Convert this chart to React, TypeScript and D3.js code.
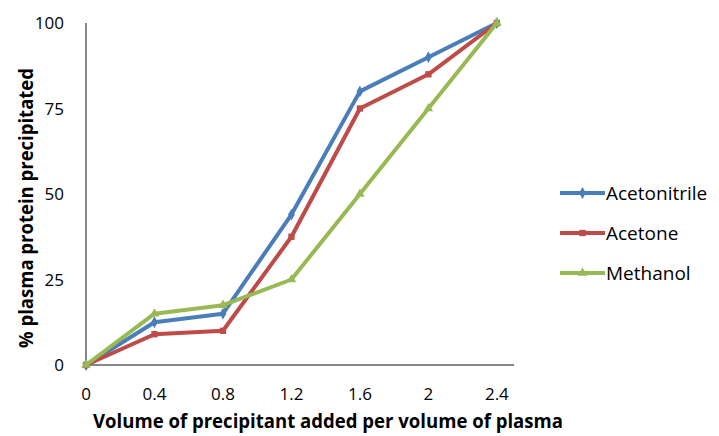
import React, { useEffect, useRef } from "react";
import * as d3 from "d3";

const volumes = [0, 0.4, 0.8, 1.2, 1.6, 2, 2.4];
const acetonitrile = [0, 12.5, 15, 44, 80, 90, 100];
const acetone = [0, 9, 10, 37.5, 75, 85, 100];
const methanol = [0, 15, 17.5, 25, 50, 75, 100];
const yTicks = [0, 25, 50, 75, 100];

const series = [
  { name: "Acetonitrile", values: acetonitrile, color: "#4A7EBB", symbol: d3.symbolDiamond },
  { name: "Acetone", values: acetone, color: "#BE4B48", symbol: d3.symbolSquare },
  { name: "Methanol", values: methanol, color: "#98B954", symbol: d3.symbolTriangle },
];

const FONT = "'Open Sans', sans-serif";

export default function App() {
  const svgRef = useRef<SVGSVGElement>(null);

  useEffect(() => {
    if (!svgRef.current) return;
    const svg = d3.select(svgRef.current);
    svg.selectAll("*").remove();

    const x = d3.scaleLinear().domain([0, 2.5]).range([86, 514]);
    const y = d3.scaleLinear().domain([0, 100]).range([365, 23]);

    // axes lines
    svg.append("line")
      .attr("x1", x(0)).attr("x2", x(0)).attr("y1", y(100)).attr("y2", y(0))
      .attr("stroke", "#868686").attr("stroke-width", 2);
    svg.append("line")
      .attr("x1", x(0)).attr("x2", x(2.5)).attr("y1", y(0)).attr("y2", y(0))
      .attr("stroke", "#868686").attr("stroke-width", 2);

    // y tick labels
    svg.selectAll(".ytick")
      .data(yTicks)
      .enter()
      .append("text")
      .attr("x", 64)
      .attr("y", (d) => y(d))
      .attr("dy", "0.36em")
      .attr("text-anchor", "end")
      .style("font-family", FONT)
      .style("font-size", "17px")
      .style("fill", "#000")
      .text((d) => d);

    // x tick labels
    svg.selectAll(".xtick")
      .data(volumes)
      .enter()
      .append("text")
      .attr("x", (d) => x(d))
      .attr("y", 400)
      .attr("text-anchor", "middle")
      .style("font-family", FONT)
      .style("font-size", "17px")
      .style("fill", "#000")
      .text((d) => String(d));

    // axis titles
    svg.append("text")
      .attr("x", 93)
      .attr("y", 428)
      .attr("textLength", 470)
      .attr("lengthAdjust", "spacingAndGlyphs")
      .style("font-family", FONT)
      .style("font-size", "19px")
      .style("font-weight", "bold")
      .text("Volume of precipitant added per volume of plasma");

    svg.append("text")
      .attr("transform", "translate(33,348) rotate(-90)")
      .attr("textLength", 280)
      .attr("lengthAdjust", "spacingAndGlyphs")
      .style("font-family", FONT)
      .style("font-size", "19px")
      .style("font-weight", "bold")
      .text("% plasma protein precipitated");

    const line = d3.line<number>()
      .x((_, i) => x(volumes[i]))
      .y((d) => y(d));

    series.forEach((s) => {
      svg.append("path")
        .datum(s.values)
        .attr("d", line)
        .attr("fill", "none")
        .attr("stroke", s.color)
        .attr("stroke-width", 4)
        .attr("stroke-linejoin", "round");

      svg.selectAll(null)
        .data(s.values)
        .enter()
        .append("path")
        .attr("transform", (d, i) => `translate(${x(volumes[i])},${y(d)})`)
        .attr("d", d3.symbol().type(s.symbol).size(40)())
        .attr("fill", s.color);
    });

    // legend
    const lg = svg.append("g").attr("transform", "translate(560,193)");
    series.forEach((s, i) => {
      const row = lg.append("g").attr("transform", `translate(0,${i * 40})`);
      row.append("line")
        .attr("x1", 0).attr("x2", 45).attr("y1", 0).attr("y2", 0)
        .attr("stroke", s.color).attr("stroke-width", 4);
      row.append("path")
        .attr("transform", "translate(22.5,0)")
        .attr("d", d3.symbol().type(s.symbol).size(40)())
        .attr("fill", s.color);
      row.append("text")
        .attr("x", 46)
        .attr("y", 0)
        .attr("dy", "0.36em")
        .style("font-family", FONT)
        .style("font-size", "19px")
        .style("fill", "#000")
        .text(s.name);
    });
  }, []);

  return <svg ref={svgRef} width={719} height={436} style={{ display: "block", position: "absolute", left: 0, top: 0, background: "#fff" }} />;
}
